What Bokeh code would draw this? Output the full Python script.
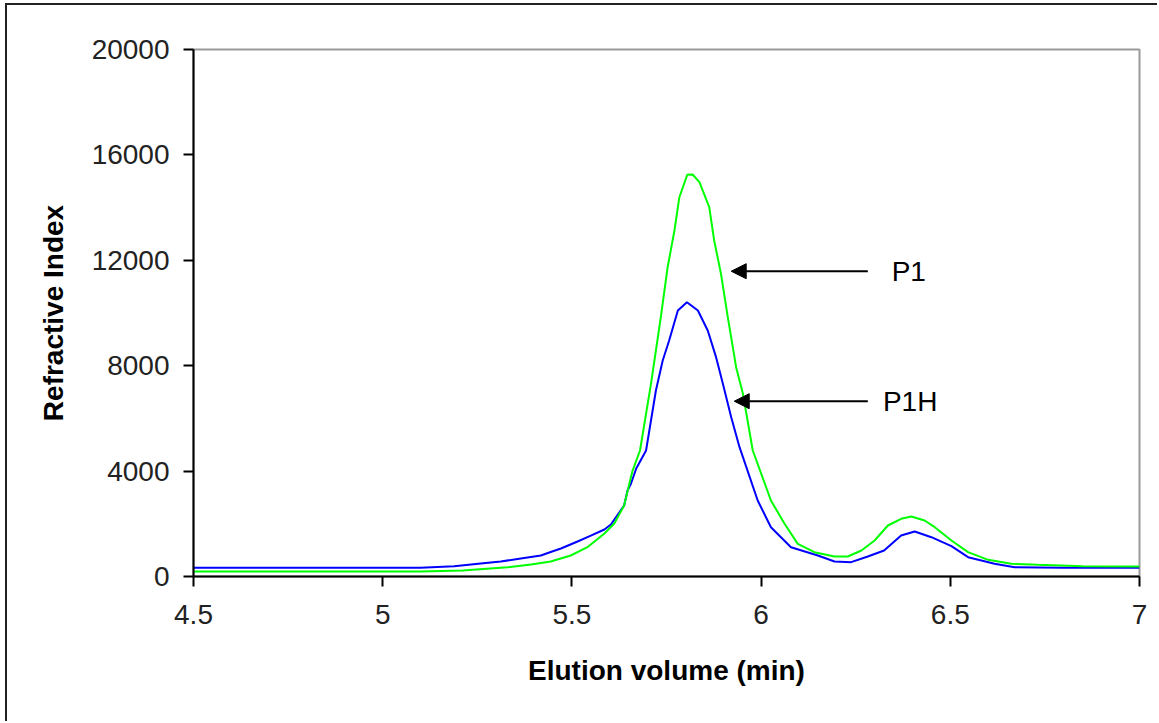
from bokeh.plotting import figure
from bokeh.models import FixedTicker, Arrow, NormalHead, Label, Range1d
from bokeh.embed import file_html
from bokeh.resources import INLINE

# ---- data ----
p1h_x = [4.50, 4.80, 5.10, 5.189, 5.259, 5.312, 5.365, 5.418, 5.444, 5.471, 5.515, 5.55, 5.586,
         5.603, 5.638, 5.647, 5.656, 5.67, 5.696, 5.722, 5.740, 5.757, 5.780, 5.804, 5.833,
         5.859, 5.881, 5.899, 5.921, 5.943, 5.991, 6.026, 6.079, 6.150, 6.194, 6.238, 6.282,
         6.325, 6.370, 6.406, 6.450, 6.503, 6.547, 6.617, 6.670, 6.80, 7.00]
p1h_y = [330, 330, 330, 390, 493, 569, 683, 797, 930, 1063, 1328, 1550, 1784,
         1973, 2694, 3264, 3520, 4100, 4782, 7059, 8197, 8956, 10095, 10410, 10095,
         9336, 8324, 7312, 6047, 4908, 2884, 1871, 1113, 797, 569, 544, 759,
         987, 1556, 1708, 1492, 1150, 734, 481, 354, 330, 330]

p1_x = [4.50, 5.10, 5.211, 5.330, 5.392, 5.444, 5.497, 5.541, 5.586, 5.612, 5.638, 5.660, 5.680,
        5.709, 5.735, 5.753, 5.771, 5.784, 5.805, 5.819, 5.837, 5.863, 5.876, 5.894, 5.912,
        5.934, 5.952, 5.978, 6.026, 6.062, 6.097, 6.141, 6.194, 6.229, 6.265, 6.300, 6.335,
        6.370, 6.397, 6.432, 6.459, 6.503, 6.547, 6.600, 6.661, 6.732, 6.85, 7.00]
p1_y = [190, 190, 228, 353, 455, 569, 797, 1112, 1632, 2011, 2694, 4000, 4782,
        7312, 9840, 11738, 13131, 14394, 15250, 15256, 14965, 14016, 12751, 11485, 9841,
        7944, 6932, 4782, 2884, 2000, 1240, 923, 759, 759, 987, 1366, 1935,
        2188, 2277, 2125, 1871, 1366, 923, 633, 481, 443, 390, 380]

x_ticks = [4.5, 5, 5.5, 6, 6.5, 7]
x_tick_labels = ["4.5", "5", "5.5", "6", "6.5", "7"]
y_ticks = [0, 4000, 8000, 12000, 16000, 20000]
y_tick_labels = ["0", "4000", "8000", "12000", "16000", "20000"]

x_title = "Elution volume (min)"
y_title = "Refractive Index"

# annotation positions (data units)
ann_p1 = dict(text="P1", x_start=6.282, x_end=5.921, y=11586, text_x=6.345)
ann_p1h = dict(text="P1H", x_start=6.282, x_end=5.929, y=6653, text_x=6.322)

FONT = "Liberation Sans"
OFF_L, OFF_T = 7, 5

p = figure(width=1159 - OFF_L, height=723 - OFF_T, output_backend="svg", toolbar_location=None,
           x_range=Range1d(4.5, 7), y_range=Range1d(0, 20000),
           min_border_left=193 - OFF_L, min_border_right=20,
           min_border_top=49 - OFF_T, min_border_bottom=147)
p.styles = {"margin-left": "5px", "margin-top": "3px",
            "border-left": "2px solid #222222", "border-top": "2px solid #222222"}

p.background_fill_color = "white"
p.border_fill_color = "white"
p.outline_line_color = "#999999"
p.outline_line_width = 2
p.xgrid.grid_line_color = None
p.ygrid.grid_line_color = None

p.line(p1h_x, p1h_y, line_color="#0000FF", line_width=2)
p.line(p1_x, p1_y, line_color="#00FF00", line_width=2)

for ax in (p.xaxis[0], p.yaxis[0]):
    ax.axis_line_color = "black"
    ax.axis_line_width = 2
    ax.major_tick_line_color = "black"
    ax.major_tick_line_width = 2
    ax.major_tick_in = 0
    ax.major_tick_out = 10
    ax.minor_tick_line_color = None
    ax.major_label_text_font = FONT
    ax.major_label_text_font_size = "28px"
    ax.major_label_text_color = "#222222"
    ax.axis_label_text_font = FONT
    ax.axis_label_text_font_style = "bold"
    ax.axis_label_text_font_size = "28px"
    ax.axis_label_text_color = "black"

p.xaxis[0].ticker = FixedTicker(ticks=x_ticks)
p.xaxis[0].major_label_overrides = {t: l for t, l in zip(x_ticks, x_tick_labels)}
p.xaxis[0].major_label_standoff = 18
p.xaxis[0].axis_label = x_title
p.xaxis[0].axis_label_standoff = 28

p.yaxis[0].ticker = FixedTicker(ticks=y_ticks)
p.yaxis[0].major_label_overrides = {t: l for t, l in zip(y_ticks, y_tick_labels)}
p.yaxis[0].major_label_standoff = 14
p.yaxis[0].axis_label = y_title
p.yaxis[0].axis_label_standoff = 20

for a in (ann_p1, ann_p1h):
    p.add_layout(Arrow(x_start=a["x_start"], y_start=a["y"], x_end=a["x_end"], y_end=a["y"],
                       line_color="black", line_width=2,
                       end=NormalHead(size=15, fill_color="black", line_color="black")))
    p.add_layout(Label(x=a["text_x"], y=a["y"], text=a["text"], text_font=FONT,
                       text_font_size="28px", text_baseline="middle", text_color="black"))

open("out.html", "w").write(file_html(p, INLINE))
